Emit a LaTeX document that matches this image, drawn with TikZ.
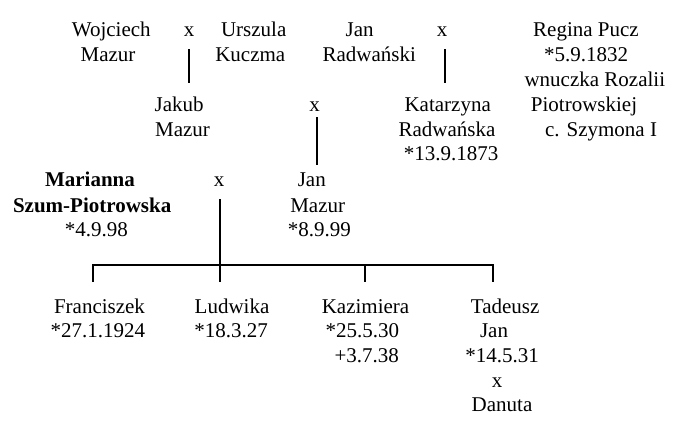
\documentclass[tikz,border=0pt]{standalone}
\usepackage{fontspec}
\setmainfont{Liberation Serif}
\begin{document}
\begin{tikzpicture}[x=1pt,y=-1pt,
  txt/.style={anchor=base, inner sep=0pt, font=\fontsize{21}{24}\selectfont},
  btxt/.style={anchor=base, inner sep=0pt, font=\fontsize{21}{24}\selectfont\bfseries},
  link/.style={line width=2pt, line join=miter}]
\useasboundingbox (0,0) rectangle (676,426);
% top generation
\node[txt] (wojciech) at (111.3,36) {Wojciech};
\node[txt] (wmazur) at (108,61) {Mazur};
\node[txt] (x1) at (189,36) {x};
\node[txt] (urszula) at (253.7,36) {Urszula};
\node[txt] (kuczma) at (250.3,61) {Kuczma};
\node[txt] (jan1) at (359.7,36) {Jan};
\node[txt] (radw) at (369.3,61) {Radwański};
\node[txt] (x3) at (442,36) {x};
\node[txt] (regina) at (586,36) {Regina Pucz};
\node[txt] (regb) at (586,61) {*5.9.1832};
\node[txt] (regc) at (594.8,86.5) {wnuczka Rozalii};
\node[txt] (regd) at (584,111.5) {Piotrowskiej};
\node[txt] (rege) at (601,136.5) {c. Szymona I};
% second generation
\node[txt] (jakub) at (179.2,111.5) {Jakub};
\node[txt] (jmazur) at (182.5,136.5) {Mazur};
\node[txt] (x2) at (314.5,111.5) {x};
\node[txt] (katarzyna) at (447.7,111.5) {Katarzyna};
\node[txt] (kradw) at (447,136.5) {Radwańska};
\node[txt] (kbirth) at (451,160.5) {*13.9.1873};
% third generation
\node[btxt] (marianna) at (90,186.5) {Marianna};
\node[btxt] (szum) at (92.2,212) {Szum-Piotrowska};
\node[txt] (mbirth) at (96.3,236.5) {*4.9.98};
\node[txt] (x4) at (219,186.5) {x};
\node[txt] (jan2) at (311.8,186.5) {Jan};
\node[txt] (j2mazur) at (317.7,212) {Mazur};
\node[txt] (j2birth) at (319.3,236.5) {*8.9.99};
% children
\node[txt] (franc) at (99.5,313.5) {Franciszek};
\node[txt] (francb) at (97.8,337.5) {*27.1.1924};
\node[txt] (ludw) at (232,313.5) {Ludwika};
\node[txt] (ludwb) at (231,337.5) {*18.3.27};
\node[txt] (kazim) at (365.5,313.5) {Kazimiera};
\node[txt] (kazimb) at (362.3,337.5) {*25.5.30};
\node[txt] (kazimd) at (366.8,362) {+3.7.38};
\node[txt] (tad) at (505.2,313.5) {Tadeusz};
\node[txt] (tadjan) at (494,337.5) {Jan};
\node[txt] (tadb) at (502,362) {*14.5.31};
\node[txt] (x5) at (497,387) {x};
\node[txt] (danuta) at (502,411) {Danuta};
% connector points
\coordinate (l1a) at (189,49);
\coordinate (l1b) at (189,83);
\coordinate (l3a) at (445,49);
\coordinate (l3b) at (445,83);
\coordinate (l2a) at (316.5,117);
\coordinate (l2b) at (316.5,165);
\coordinate (l4a) at (220,199);
\coordinate (l4b) at (220,282);
\coordinate (barL) at (92.7,265);
\coordinate (barR) at (493,265);
\coordinate (dF) at (92.7,282);
\coordinate (dT) at (493,282);
\coordinate (barK) at (364.7,265);
\coordinate (dK) at (364.7,282);
% connectors
\draw[link] (l1a) -- (l1b);
\draw[link] (l3a) -- (l3b);
\draw[link] (l2a) -- (l2b);
\draw[link] (l4a) -- (l4b);
\draw[link] (dF) -- (barL) -- (barR) -- (dT);
\draw[link] (barK) -- (dK);
\end{tikzpicture}
\end{document}
